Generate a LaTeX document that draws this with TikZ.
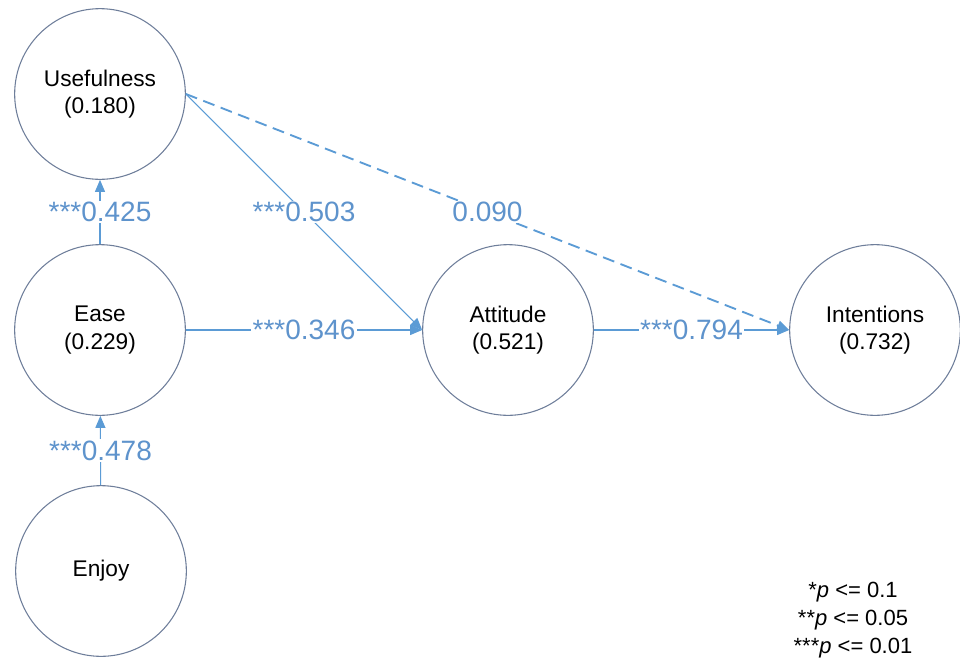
\documentclass[tikz,border=0pt]{standalone}
\usepackage{fontspec}
\setmainfont{Liberation Sans}
\usetikzlibrary{arrows.meta}
\definecolor{edgeblue}{HTML}{5B9BD5}
\definecolor{labblue}{HTML}{5E93CC}
\definecolor{ringcol}{HTML}{6E7E9A}
\begin{document}
\begin{tikzpicture}[x=0.75pt,y=-0.75pt,
  latent/.style={circle,draw=ringcol,line width=0.8pt,minimum size=128pt,inner sep=0pt,
    align=center,font=\fontsize{17}{20.5}\selectfont,text=black},
  path/.style={draw=edgeblue,line width=0.8pt,-{Triangle[length=9pt,width=7.5pt]}},
  coef/.style={fill=white,inner sep=1pt,text=labblue,font=\fontsize{21}{25}\selectfont},
  legend/.style={align=center,font=\fontsize{16.5}{21}\selectfont,text=black}]
\useasboundingbox (0,0) rectangle (960,661);
\node[latent] (U) at (100,94) {Usefulness\\(0.180)};
\node[latent] (E) at (100,330) {Ease\\(0.229)};
\node[latent] (J) at (101,571) {Enjoy};
\node[latent] (A) at (508,330) {Attitude\\(0.521)};
\node[latent] (I) at (875,330) {Intentions\\(0.732)};
\draw[path] (E) -- node[coef] {***0.425} (U);
\draw[path] (J) -- node[coef] {***0.478} (E);
\draw[path] (E) -- node[coef] {***0.346} (A);
\draw[path] (A) -- node[coef] {***0.794} (I);
\draw[path] (U.east) -- node[coef] {***0.503} (A.west);
\draw[path,line width=1.4pt,dash pattern=on 9pt off 5pt] (U.east) -- node[coef] {0.090} (I.west);
\node[legend] (L) at (853,620) {*\textit{p} <= 0.1\\**\textit{p} <= 0.05\\***\textit{p} <= 0.01};
\end{tikzpicture}
\end{document}
